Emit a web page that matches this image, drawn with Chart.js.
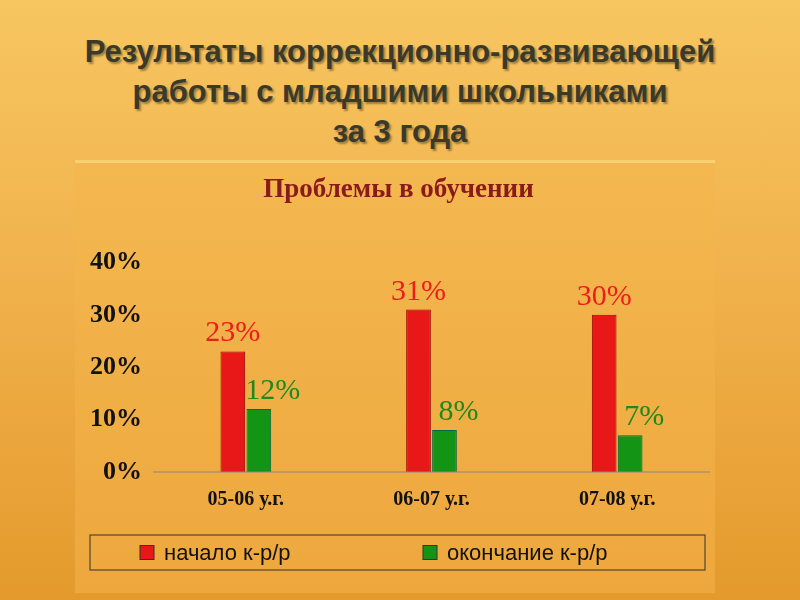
<!DOCTYPE html>
<html><head><meta charset="utf-8">
<script src="https://cdn.jsdelivr.net/npm/chart.js@4"></script>
<style>
body{margin:0;width:800px;height:600px;overflow:hidden;background:linear-gradient(180deg,#f7c661 0%,#f0b04a 50%,#e49a2c 100%);position:relative;font-family:"Liberation Sans",Arial,sans-serif}
#t{position:absolute;left:0;top:32px;width:800px;text-align:center;font-weight:bold;font-size:31px;line-height:40px;color:#3a3a2a;text-shadow:2px 2px 2px rgba(0,0,0,0.35)}
#panel{position:absolute;left:75px;top:160px;width:640px;height:430px;background:linear-gradient(180deg,#f4b850,#eda73d);border-top:3px solid #f8d070}
#c{position:absolute;left:75px;top:160px}
</style></head><body>
<div id="t">Результаты коррекционно-развивающей<br>работы с младшими школьниками<br>за 3 года</div>
<div id="panel"></div>
<canvas id="c" width="640" height="430"></canvas>
<script>
const categories=["05-06 у.г.","06-07 у.г.","07-08 у.г."];
const startVals=[23,31,30];
const endVals=[12,8,7];
const yTicks=[0,10,20,30,40];
const labelPlugin={id:'lbl',afterDatasetsDraw(ch){const c=ch.ctx;c.save();c.font='30px "Liberation Serif"';c.textAlign='center';
ch.data.datasets.forEach((d,i)=>{const m=ch.getDatasetMeta(i);c.fillStyle=i==0?'#ee1c1c':'#1e8a1e';
m.data.forEach((b,j)=>{c.fillText(d.data[j]+'%',b.x+(i==0?0:14),b.y-10);});});c.restore();}};
const boxPlugin={id:'box',afterDraw(ch){const c=ch.ctx;c.save();
const a=ch.chartArea;c.strokeStyle='#888';c.beginPath();c.moveTo(a.left,a.bottom);c.lineTo(a.right,a.bottom);c.stroke();
const top=375,h=35;c.strokeStyle='#333';c.strokeRect(15,top,615,h);
c.font='22px "Liberation Sans"';c.textBaseline='middle';c.fillStyle='#111';
const items=[[65,ch.data.datasets[0]],[348,ch.data.datasets[1]]];
items.forEach(([x,d])=>{c.fillStyle=d.backgroundColor;c.fillRect(x,top+h/2-7,14,14);c.strokeStyle='#333';c.strokeRect(x,top+h/2-7,14,14);
c.fillStyle='#111';c.fillText(d.label,x+24,top+h/2+1);});
c.restore();}};
new Chart(document.getElementById('c'),{type:'bar',
data:{labels:categories,datasets:[
{label:'начало к-р/р',data:startVals,backgroundColor:'#e81818',borderColor:'#900',borderWidth:1},
{label:'окончание к-р/р',data:endVals,backgroundColor:'#149414',borderColor:'#064',borderWidth:1}]},
options:{responsive:false,animation:false,
layout:{padding:{left:12,right:5,top:0,bottom:70}},
datasets:{bar:{barPercentage:0.95,categoryPercentage:0.28}},
plugins:{title:{display:true,text:'Проблемы в обучении',color:'#8b1a1a',font:{family:'Liberation Serif',size:27,weight:'bold'},padding:{top:14,bottom:56}},
legend:{display:false},tooltip:{enabled:false}},
scales:{y:{min:0,max:40,afterBuildTicks(s){s.ticks=yTicks.map(v=>({value:v}));},
 ticks:{callback:v=>v+'%',color:'#111',font:{family:'Liberation Serif',size:26,weight:'bold'}},grid:{display:false},border:{display:false}},
x:{ticks:{color:'#111',font:{family:'Liberation Serif',size:20,weight:'bold'},padding:8},grid:{display:false},border:{display:false}}}},
plugins:[labelPlugin,boxPlugin]});
</script></body></html>
